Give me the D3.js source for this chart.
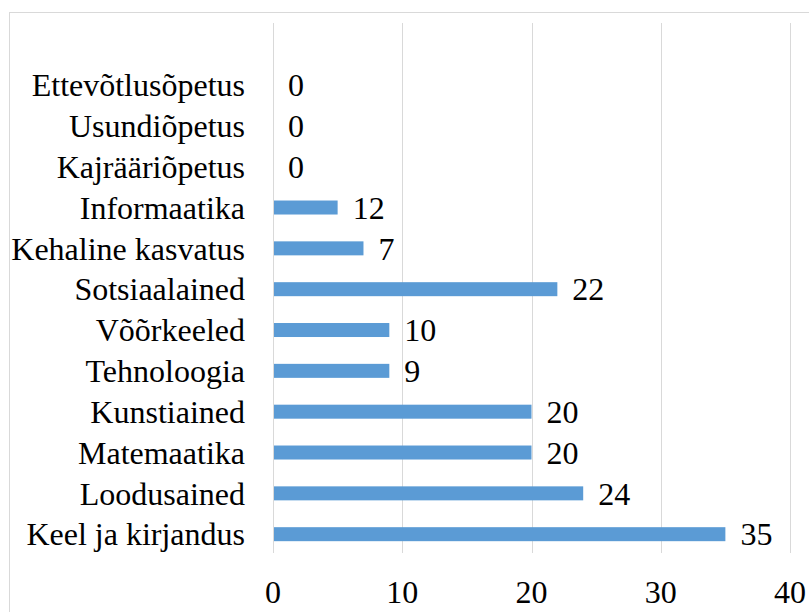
<!DOCTYPE html>
<html lang="en">
<head>
<meta charset="UTF-8">
<title>Õppeained</title>
<style>
  body { margin: 0; background: #fff; }
  svg { display: block; }
  text { font-family: "Liberation Serif", Tinos, "Times New Roman", Times, serif; }
</style>
</head>
<body>
<svg id="chart"></svg>
<script src="https://d3js.org/d3.v7.min.js"></script>
<script>
// categories, top to bottom
const categories = ["Ettevõtlusõpetus", "Usundiõpetus", "Kajrääriõpetus", "Informaatika",
  "Kehaline kasvatus", "Sotsiaalained", "Võõrkeeled", "Tehnoloogia", "Kunstiained",
  "Matemaatika", "Loodusained", "Keel ja kirjandus"];
// bar lengths as drawn
const barValues = [0, 0, 0, 5, 7, 22, 9, 9, 20, 20, 24, 35];
// data labels as printed
const labelValues = [0, 0, 0, 12, 7, 22, 10, 9, 20, 20, 24, 35];
const ticks = [0, 10, 20, 30, 40];

const width = 809, height = 612;
const fontSize = "32px";

const svg = d3.select("#chart").attr("width", width).attr("height", height);

// chart frame
svg.append("rect")
  .attr("x", 9.5).attr("y", 12.5)
  .attr("width", 820).attr("height", 620)
  .attr("fill", "none").attr("stroke", "#d9d9d9");

const x = d3.scaleLinear().domain([0, 40]).range([273, 790]);
const y = d3.scaleBand().domain(categories).range([64.6, 554.6]).padding(0);

// gridlines
svg.append("g").selectAll("line")
  .data(ticks)
  .enter().append("line")
  .attr("x1", d => Math.round(x(d)) + 0.5)
  .attr("x2", d => Math.round(x(d)) + 0.5)
  .attr("y1", 23).attr("y2", 553)
  .attr("stroke", "#d9d9d9").attr("stroke-width", 1);

// bars
const barH = 14;
svg.append("g").selectAll("rect")
  .data(categories)
  .enter().append("rect")
  .attr("x", x(0) + 1)
  .attr("y", d => y(d) + y.bandwidth() / 2 - barH / 2)
  .attr("width", (d, i) => Math.max(0, x(barValues[i]) - x(0) - 1))
  .attr("height", barH)
  .attr("fill", "#5b9bd5");

// category labels
svg.append("g").selectAll("text")
  .data(categories)
  .enter().append("text")
  .attr("x", 245)
  .attr("y", d => y(d) + y.bandwidth() / 2)
  .attr("dy", "0.35em")
  .attr("text-anchor", "end")
  .style("font-size", fontSize)
  .attr("fill", "#000")
  .text(d => d);

// data labels
svg.append("g").selectAll("text")
  .data(categories)
  .enter().append("text")
  .attr("x", (d, i) => x(barValues[i]) + 15)
  .attr("y", d => y(d) + y.bandwidth() / 2)
  .attr("dy", "0.35em")
  .style("font-size", fontSize)
  .attr("fill", "#000")
  .text((d, i) => labelValues[i]);

// x tick labels
svg.append("g").selectAll("text")
  .data(ticks)
  .enter().append("text")
  .attr("x", d => x(d))
  .attr("y", 603)
  .attr("text-anchor", "middle")
  .style("font-size", fontSize)
  .attr("fill", "#000")
  .text(d => d);
</script>
</body>
</html>
